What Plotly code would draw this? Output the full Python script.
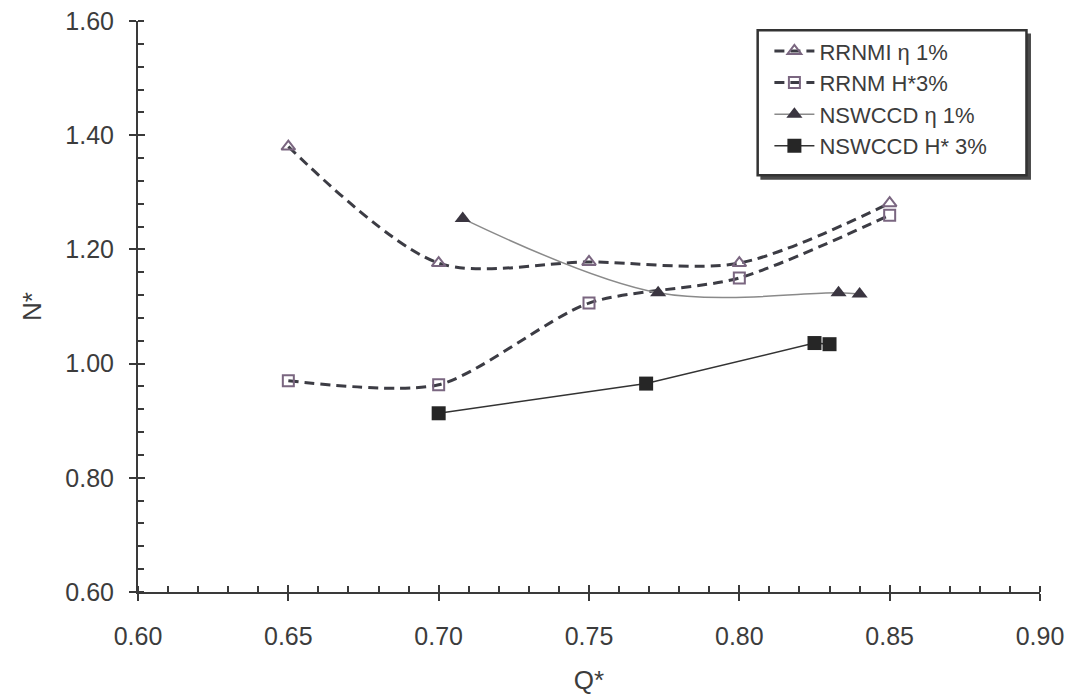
import plotly.graph_objects as go

# ---- data ----
q_rrnmi = [0.65, 0.70, 0.75, 0.80, 0.85]
n_rrnmi = [1.38, 1.176, 1.178, 1.176, 1.281]

q_rrnm = [0.65, 0.70, 0.75, 0.80, 0.85]
n_rrnm = [0.970, 0.963, 1.106, 1.150, 1.260]

q_nsw_eta = [0.708, 0.773, 0.833, 0.840]
n_nsw_eta = [1.254, 1.124, 1.124, 1.122]

q_nsw_h = [0.700, 0.769, 0.825, 0.830]
n_nsw_h = [0.913, 0.965, 1.036, 1.034]

names = ["RRNMI η 1%", "RRNM H*3%", "NSWCCD η 1%", "NSWCCD H* 3%"]

x_ticks = [0.60, 0.65, 0.70, 0.75, 0.80, 0.85, 0.90]
y_ticks = [0.60, 0.80, 1.00, 1.20, 1.40, 1.60]

FONT = "Liberation Sans, Arial, sans-serif"
AX = "#3a3a3a"
TXT = "#3c3c3c"

fig = go.Figure()
fig.add_trace(go.Scatter(
    x=q_rrnmi, y=n_rrnmi, name=names[0], mode="lines+markers",
    line=dict(color="#3c3c44", width=3, dash="10px,6px", shape="spline", smoothing=0.85),
    marker=dict(symbol="triangle-up-open", size=12, color="#7a6680", line=dict(width=2, color="#7a6680")),
))
fig.add_trace(go.Scatter(
    x=q_rrnm, y=n_rrnm, name=names[1], mode="lines+markers",
    line=dict(color="#3c3c44", width=3, dash="10px,6px", shape="spline", smoothing=0.75),
    marker=dict(symbol="square-open", size=11, color="#7a6680", line=dict(width=2, color="#7a6680")),
))
fig.add_trace(go.Scatter(
    x=q_nsw_eta, y=n_nsw_eta, name=names[2], mode="lines+markers",
    line=dict(color="#8a8a8a", width=1.5, shape="spline", smoothing=1.0),
    marker=dict(symbol="triangle-up", size=14, color="#3a3540"),
))
fig.add_trace(go.Scatter(
    x=q_nsw_h, y=n_nsw_h, name=names[3], mode="lines+markers",
    line=dict(color="#333333", width=1.5),
    marker=dict(symbol="square", size=14, color="#262626"),
))

# dummy overlay trace so inward major ticks exist
fig.add_trace(go.Scatter(x=[None], y=[None], xaxis="x2", yaxis="y2", showlegend=False, hoverinfo="skip"))

fig.update_layout(
    width=1078, height=700,
    margin=dict(l=138, r=38, t=21, b=108),
    paper_bgcolor="white", plot_bgcolor="white",
    font=dict(family=FONT, color=TXT),
    showlegend=True,
    xaxis=dict(
        range=[0.60, 0.90], tickvals=x_ticks, ticktext=[f"{v:.2f}" for v in x_ticks],
        ticks="outside", ticklen=7, tickwidth=2, tickcolor=AX, automargin=False,
        showline=True, linecolor=AX, linewidth=2, showgrid=False, zeroline=False,
        tickfont=dict(size=25, color=TXT), ticklabelstandoff=14,
        minor=dict(dtick=0.01, tick0=0.60, ticks="inside", ticklen=6, tickwidth=1.5, tickcolor=AX, showgrid=False),
        title=dict(text="Q*", font=dict(size=26, color=TXT), standoff=22),
    ),
    yaxis=dict(
        range=[0.60, 1.60], tickvals=y_ticks, ticktext=[f"{v:.2f}" for v in y_ticks],
        ticks="outside", ticklen=7, tickwidth=2, tickcolor=AX, automargin=False,
        showline=True, linecolor=AX, linewidth=2, showgrid=False, zeroline=False,
        tickfont=dict(size=25, color=TXT), ticklabelstandoff=10,
        minor=dict(dtick=0.04, tick0=0.60, ticks="inside", ticklen=6, tickwidth=1.5, tickcolor=AX, showgrid=False),
        title=dict(text="N*", font=dict(size=26, color=TXT), standoff=16),
    ),
    xaxis2=dict(range=[0.60, 0.90], overlaying="x", anchor="y", side="bottom",
                tickvals=x_ticks, ticks="inside", ticklen=7, tickwidth=2, tickcolor=AX,
                showticklabels=False, showline=False, showgrid=False, zeroline=False),
    yaxis2=dict(range=[0.60, 1.60], overlaying="y", anchor="x", side="left",
                tickvals=y_ticks, ticks="inside", ticklen=7, tickwidth=2, tickcolor=AX,
                showticklabels=False, showline=False, showgrid=False, zeroline=False),
    legend=dict(
        x=0.700, y=0.984, xanchor="left", yanchor="top",
        bgcolor="rgba(0,0,0,0)", borderwidth=0,
        font=dict(size=22, color=TXT),
        tracegroupgap=4, itemwidth=40,
    ),
    shapes=[
        dict(type="rect", xref="paper", yref="paper", x0=0.690, x1=0.990, y0=0.722, y1=0.978,
             line=dict(width=0), fillcolor="#4a4a4a", layer="above"),
        dict(type="rect", xref="paper", yref="paper", x0=0.687, x1=0.985, y0=0.730, y1=0.984,
             line=dict(width=2.5, color="#333333"), fillcolor="white", layer="above"),
    ],
)

fig.write_html("out.html")
